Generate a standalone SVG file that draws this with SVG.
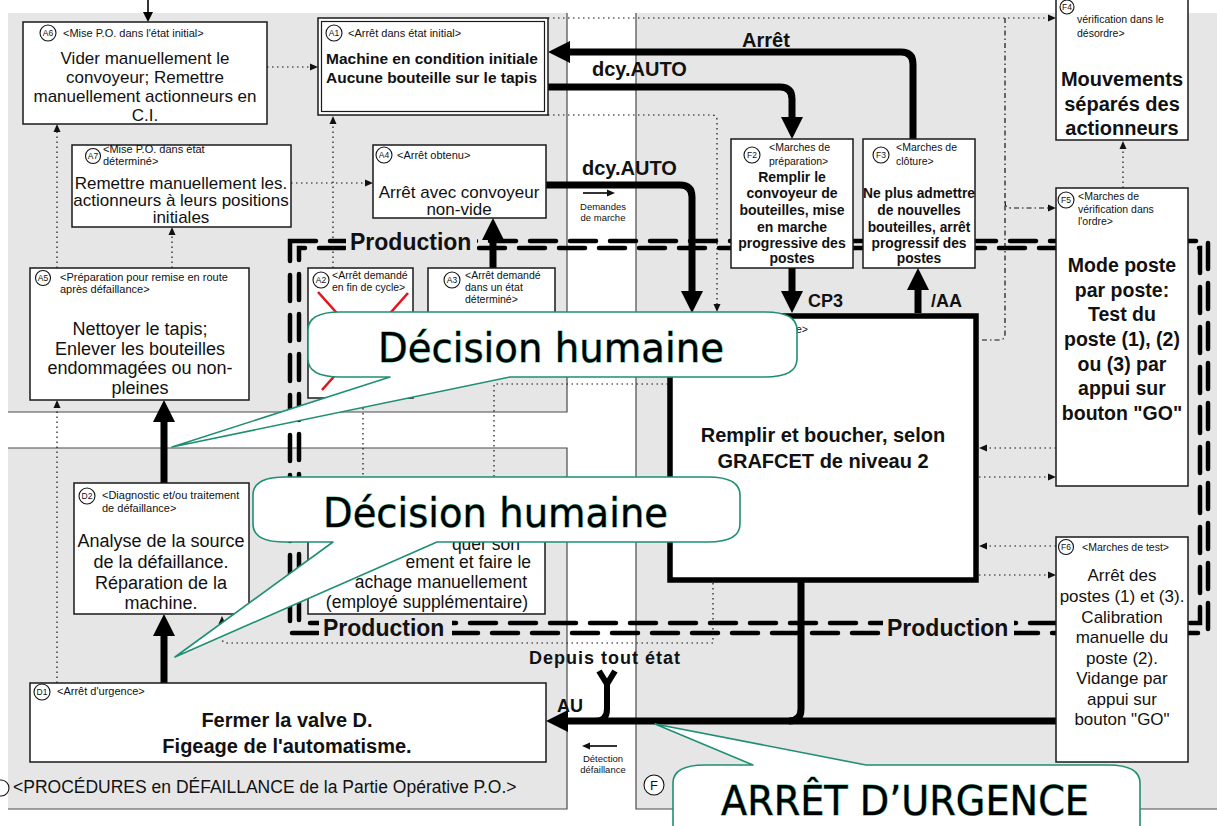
<svg xmlns="http://www.w3.org/2000/svg" width="1217" height="826" viewBox="0 0 1217 826">
<defs>
<style>
text{font-family:"Liberation Sans",Arial,Helvetica,sans-serif;fill:#111}
.bg{fill:#e6e6e6}
.edge{fill:none;stroke:#4a4a4a;stroke-width:1.2}
.box{fill:#fff;stroke:#1a1a1a;stroke-width:1.5}
.circ{fill:#fff;stroke:#111;stroke-width:1.1}
.ct{font-size:8.5px;text-anchor:middle}
.lbl{font-size:11px}
.lbs{font-size:10.5px}
.mid{text-anchor:middle}
.b{font-weight:bold}
.dot{fill:none;stroke:#111;stroke-width:1.2;stroke-dasharray:1.5 3.5}
.dd{fill:none;stroke:#111;stroke-width:1.2;stroke-dasharray:5 3 1.5 3}
.thk{fill:none;stroke:#000;stroke-width:7}
.thin{fill:none;stroke:#000;stroke-width:1.6}
.prod{fill:none;stroke:#000;stroke-width:4.5;stroke-dasharray:26 14;stroke-linecap:round}
.cross{stroke:#e5141b;stroke-width:2.6}
.bub{fill:#fff;stroke:#1f8f73;stroke-width:1.6;stroke-linejoin:round}
.big{font-family:"DejaVu Sans","Liberation Sans",sans-serif;fill:#000;stroke:#5bbfa3;stroke-width:1.1;paint-order:stroke}
</style>
<marker id="ab" markerUnits="userSpaceOnUse" markerWidth="22" markerHeight="22" refX="0" refY="11" orient="auto"><path d="M0,0L22,11L0,22z" fill="#000"/></marker>
<marker id="am" markerUnits="userSpaceOnUse" markerWidth="10" markerHeight="10" refX="0" refY="5" orient="auto"><path d="M0,0L10,5L0,10z" fill="#000"/></marker>
<marker id="as" markerUnits="userSpaceOnUse" markerWidth="8" markerHeight="8" refX="0" refY="4" orient="auto"><path d="M0,0.5L8,4L0,7.5z" fill="#111"/></marker>
</defs>

<rect width="1217" height="826" fill="#fff"/>

<g id="zone-A">
<rect class="bg" x="8" y="13" width="559" height="399"/>
<path class="edge" d="M8,412H567V13"/>
</g>
<g id="zone-D">
<rect class="bg" x="8" y="448" width="559" height="361"/>
<path class="edge" d="M8,448H567V809H8"/>
<circle class="circ" cx="1" cy="788" r="8"/>
<text x="13" y="793" style="font-size:17.5px">&lt;PROCÉDURES en DÉFAILLANCE de la Partie Opérative P.O.&gt;</text>
</g>
<g id="zone-F">
<rect class="bg" x="636" y="13" width="581" height="796"/>
<path class="edge" d="M636,13V809H1217"/>
<circle class="circ" cx="654" cy="785" r="10"/>
<text class="mid" x="654" y="790" style="font-size:13px">F</text>
</g>

<g id="production-frame">
<rect class="prod" x="290" y="241" width="918" height="392"/>
<rect class="prod" x="299" y="248" width="901" height="375" style="stroke-dashoffset:20"/>
<rect class="bg" x="346" y="231" width="131" height="25"/>
<rect class="bg" x="319" y="616" width="133" height="24"/>
<rect class="bg" x="883" y="616" width="131" height="24"/>
<text class="b" x="350" y="250" style="font-size:23px">Production</text>
<text class="b" x="323" y="636" style="font-size:23px">Production</text>
<text class="b" x="887" y="636" style="font-size:23px">Production</text>
</g>

<g id="connectors">
<g id="dotted-links">
<path class="dot" marker-end="url(#as)" d="M267,67H310"/>
<path class="dot" marker-end="url(#as)" d="M291,183H365"/>
<path class="dot" marker-end="url(#as)" d="M172,268V235"/>
<path class="dot" marker-end="url(#as)" d="M57,268V132"/>
<path class="dot" marker-end="url(#as)" d="M57,683V408"/>
<path class="dot" marker-end="url(#as)" d="M333,268V124"/>
<path class="dot" marker-end="url(#as)" d="M548,115H712Q717,115 717,120V304"/>
<path class="dot" marker-end="url(#as)" d="M548,18H1048"/>
<path class="dd" d="M1005,18V334Q1005,340 999,340H979"/>
<path class="dd" marker-end="url(#as)" d="M1005,202Q1005,208 1011,208H1048"/>
<path class="dot" marker-end="url(#as)" d="M1056,448H987"/>
<path class="dot" marker-end="url(#as)" d="M979,477H1048"/>
<path class="dot" marker-end="url(#as)" d="M1056,546H987"/>
<path class="dot" marker-end="url(#as)" d="M979,575H1048"/>
<path class="dot" marker-end="url(#as)" d="M1123,188V149"/>
<path class="dot" marker-end="url(#as)" d="M713,583V643H227Q222,643 222,638V624"/>
<path class="dot" d="M668,384H494V490"/>
<path class="dot" d="M363,398V490"/>
</g>
<g id="flow-links">
<path class="thk" marker-end="url(#ab)" d="M913,139V64Q913,52 901,52H570"/>
<path class="thk" marker-end="url(#ab)" d="M548,87H780Q792,87 792,99V117"/>
<path class="thk" marker-end="url(#ab)" d="M546,185H680Q692,185 692,197V291"/>
<path class="thk" marker-end="url(#ab)" d="M792,268V291"/>
<path class="thk" marker-end="url(#ab)" d="M918,313V290"/>
<path class="thk" marker-end="url(#ab)" d="M493,268V240"/>
<path class="thk" marker-end="url(#ab)" d="M164,483V422"/>
<path class="thk" marker-end="url(#ab)" d="M164,683V636"/>
<path class="thk" marker-end="url(#ab)" d="M1056,721H568"/>
<path class="thk" d="M801,580V709Q801,721 789,721"/>
<path class="thk" style="stroke-width:6;stroke-linejoin:round" d="M599,671L607,684L615,671M607,684V709Q607,721 595,721"/>
<path class="thin" marker-end="url(#am)" d="M148,0V12"/>
<path class="thin" marker-end="url(#as)" d="M583,193H607"/>
<path class="thin" marker-end="url(#as)" d="M617,746H590"/>
</g>
<g id="link-labels">
<text class="b mid" x="766" y="47" style="font-size:20px">Arrêt</text>
<text class="b" x="592" y="76" style="font-size:20px">dcy.AUTO</text>
<text class="b" x="582" y="175" style="font-size:20px">dcy.AUTO</text>
<text class="mid" x="603" y="210" style="font-size:9.5px">Demandes</text>
<text class="mid" x="603" y="221" style="font-size:9.5px">de marche</text>
<text class="b" x="808" y="307" style="font-size:18px">CP3</text>
<text class="b" x="931" y="307" style="font-size:18px">/AA</text>
<text class="b" x="529" y="664" style="font-size:18px;letter-spacing:1px">Depuis tout état</text>
<text class="b" x="557" y="712" style="font-size:18px">AU</text>
<text class="mid" x="603" y="762" style="font-size:9.5px">Détection</text>
<text class="mid" x="603" y="773" style="font-size:9.5px">défaillance</text>
</g>
</g>

<g id="A6">
<rect class="box" x="23" y="22" width="244" height="102"/>
<circle class="circ" cx="48" cy="33" r="8"/><text class="ct" x="48" y="36">A6</text>
<text class="lbl" x="63" y="37">&lt;Mise P.O. dans l'état initial&gt;</text>
<text class="mid" style="font-size:17px"><tspan x="145" y="64">Vider manuellement le</tspan><tspan x="145" y="83">convoyeur; Remettre</tspan><tspan x="145" y="102">manuellement actionneurs en</tspan><tspan x="145" y="121">C.I.</tspan></text>
</g>

<g id="A1">
<rect class="box" x="318" y="18" width="230" height="97"/>
<rect x="321.5" y="21.5" width="223" height="90" fill="none" stroke="#1a1a1a" stroke-width="1.2"/>
<circle class="circ" cx="334" cy="33" r="8"/><text class="ct" x="334" y="36">A1</text>
<text class="lbl" x="348" y="37">&lt;Arrêt dans état initial&gt;</text>
<text class="b" style="font-size:15.5px"><tspan x="326" y="64">Machine en condition initiale</tspan><tspan x="326" y="83">Aucune bouteille sur le tapis</tspan></text>
</g>

<g id="A7">
<rect class="box" x="72" y="145" width="219" height="82"/>
<circle class="circ" cx="93" cy="156" r="7.5"/><text class="ct" x="93" y="159">A7</text>
<text class="lbl"><tspan x="103" y="153">&lt;Mise P.O. dans état</tspan><tspan x="103" y="165">déterminé&gt;</tspan></text>
<text class="mid" style="font-size:17px"><tspan x="181" y="189">Remettre manuellement les.</tspan><tspan x="181" y="206">actionneurs à leurs positions</tspan><tspan x="181" y="223">initiales</tspan></text>
</g>

<g id="A4">
<rect class="box" x="373" y="145" width="173" height="73"/>
<circle class="circ" cx="384" cy="155" r="8"/><text class="ct" x="384" y="158">A4</text>
<text class="lbl" x="397" y="159">&lt;Arrêt obtenu&gt;</text>
<text class="mid" style="font-size:17px"><tspan x="459" y="198">Arrêt avec convoyeur</tspan><tspan x="459" y="215">non-vide</tspan></text>
</g>

<g id="A5">
<rect class="box" x="30" y="268" width="219" height="132"/>
<circle class="circ" cx="43" cy="278" r="7.5"/><text class="ct" x="43" y="281">A5</text>
<text class="lbl"><tspan x="60" y="281">&lt;Préparation pour remise en route</tspan><tspan x="60" y="293">après défaillance&gt;</tspan></text>
<text class="mid" style="font-size:18px"><tspan x="140" y="335">Nettoyer le tapis;</tspan><tspan x="140" y="355">Enlever les bouteilles</tspan><tspan x="140" y="374">endommagées ou non-</tspan><tspan x="140" y="394">pleines</tspan></text>
</g>

<g id="A2">
<rect class="box" x="308" y="268" width="105" height="130"/>
<circle class="circ" cx="321" cy="280" r="8"/><text class="ct" x="321" y="283">A2</text>
<text class="lbs"><tspan x="332" y="279">&lt;Arrêt demandé</tspan><tspan x="332" y="291">en fin de cycle&gt;</tspan></text>
<path class="cross" d="M318,292L404,388M408,293L322,390"/>
</g>

<g id="A3">
<rect class="box" x="428" y="268" width="127" height="104"/>
<circle class="circ" cx="452" cy="280" r="8"/><text class="ct" x="452" y="283">A3</text>
<text class="lbs"><tspan x="465" y="279">&lt;Arrêt demandé</tspan><tspan x="465" y="291">dans un état</tspan><tspan x="465" y="303">déterminé&gt;</tspan></text>
</g>

<g id="D2">
<rect class="box" x="74" y="483" width="175" height="131"/>
<circle class="circ" cx="87" cy="496" r="8"/><text class="ct" x="87" y="499">D2</text>
<text class="lbl"><tspan x="102" y="499">&lt;Diagnostic et/ou traitement</tspan><tspan x="102" y="512">de défaillance&gt;</tspan></text>
<text class="mid" style="font-size:18px"><tspan x="161" y="547">Analyse de la source</tspan><tspan x="161" y="568">de la défaillance.</tspan><tspan x="161" y="589">Réparation de la</tspan><tspan x="161" y="609">machine.</tspan></text>
</g>

<g id="D3">
<rect class="box" x="308" y="490" width="237" height="124"/>
<text style="font-size:17.5px;text-anchor:end"><tspan x="520" y="550">quer son</tspan><tspan x="531" y="568">ement et faire le</tspan><tspan x="527" y="588">achage manuellement</tspan></text>
<text class="mid" x="427" y="608" style="font-size:17.5px">(employé supplémentaire)</text>
</g>

<g id="D1">
<rect class="box" x="30" y="683" width="516" height="79"/>
<circle class="circ" cx="42" cy="692" r="8"/><text class="ct" x="42" y="695">D1</text>
<text class="lbl" x="57" y="695">&lt;Arrêt d'urgence&gt;</text>
<text class="b mid" style="font-size:20px"><tspan x="287" y="727">Fermer la valve D.</tspan><tspan x="287" y="753">Figeage de l'automatisme.</tspan></text>
</g>

<g id="F2">
<rect class="box" x="731" y="139" width="122" height="129"/>
<circle class="circ" cx="752" cy="155" r="8"/><text class="ct" x="752" y="158">F2</text>
<text class="lbs"><tspan x="769" y="151">&lt;Marches de</tspan><tspan x="769" y="165">préparation&gt;</tspan></text>
<text class="b mid" style="font-size:14px"><tspan x="792" y="182">Remplir le</tspan><tspan x="792" y="198">convoyeur de</tspan><tspan x="792" y="215">bouteilles, mise</tspan><tspan x="792" y="232">en marche</tspan><tspan x="792" y="248">progressive des</tspan><tspan x="792" y="263">postes</tspan></text>
</g>

<g id="F3">
<rect class="box" x="863" y="139" width="112" height="129"/>
<circle class="circ" cx="881" cy="155" r="8"/><text class="ct" x="881" y="158">F3</text>
<text class="lbs"><tspan x="896" y="151">&lt;Marches de</tspan><tspan x="896" y="165">clôture&gt;</tspan></text>
<text class="b mid" style="font-size:13.8px"><tspan x="919" y="198">Ne plus admettre</tspan><tspan x="919" y="215">de nouvelles</tspan><tspan x="919" y="232">bouteilles, arrêt</tspan><tspan x="919" y="248">progressif des</tspan><tspan x="919" y="263">postes</tspan></text>
</g>

<g id="F4">
<rect class="box" x="1056" y="-2" width="132" height="142"/>
<circle class="circ" cx="1067" cy="7" r="7"/><text class="ct" x="1067" y="10">F4</text>
<text class="lbs"><tspan x="1077" y="23">vérification dans le</tspan><tspan x="1077" y="37">désordre&gt;</tspan></text>
<text class="b mid" style="font-size:20px"><tspan x="1122" y="86">Mouvements</tspan><tspan x="1122" y="111">séparés des</tspan><tspan x="1122" y="135">actionneurs</tspan></text>
</g>

<g id="F5">
<rect class="box" x="1056" y="188" width="132" height="298"/>
<circle class="circ" cx="1066" cy="200" r="8"/><text class="ct" x="1066" y="203">F5</text>
<text class="lbs"><tspan x="1078" y="200">&lt;Marches de</tspan><tspan x="1078" y="213">vérification dans</tspan><tspan x="1078" y="225">l'ordre&gt;</tspan></text>
<text class="b mid" style="font-size:19.5px"><tspan x="1122" y="272">Mode poste</tspan><tspan x="1122" y="297">par poste:</tspan><tspan x="1122" y="321">Test du</tspan><tspan x="1122" y="346">poste (1), (2)</tspan><tspan x="1122" y="371">ou (3) par</tspan><tspan x="1122" y="395">appui sur</tspan><tspan x="1122" y="420">bouton "GO"</tspan></text>
</g>

<g id="F6">
<rect class="box" x="1056" y="537" width="132" height="225"/>
<circle class="circ" cx="1066" cy="547" r="7.5"/><text class="ct" x="1066" y="550">F6</text>
<text class="lbs" x="1082" y="551">&lt;Marches de test&gt;</text>
<text class="mid" style="font-size:17px"><tspan x="1122" y="581">Arrêt des</tspan><tspan x="1122" y="602">postes (1) et (3).</tspan><tspan x="1122" y="623">Calibration</tspan><tspan x="1122" y="643">manuelle du</tspan><tspan x="1122" y="664">poste (2).</tspan><tspan x="1122" y="684">Vidange par</tspan><tspan x="1122" y="705">appui sur</tspan><tspan x="1122" y="725">bouton "GO"</tspan></text>
</g>

<g id="F1">
<rect x="670" y="316" width="306" height="264" fill="#fff" stroke="#000" stroke-width="5.5"/>
<text class="lbs" x="808" y="333" style="text-anchor:end">e&gt;</text>
<text class="b mid" style="font-size:20px"><tspan x="823" y="442">Remplir et boucher, selon</tspan><tspan x="823" y="468">GRAFCET de niveau 2</tspan></text>
</g>

<g id="callout-decision-1">
<path class="bub" d="M340,312L765,312Q797,312 797,330L797,359Q797,377 765,377L510,377L172,447L390,377L340,377Q308,377 308,359L308,330Q308,312 340,312Z"/>
<text class="big" x="378" y="362" style="font-size:40px" textLength="346" lengthAdjust="spacingAndGlyphs">Décision humaine</text>
</g>

<g id="callout-decision-2">
<path class="bub" d="M285,477L708,477Q740,477 740,495L740,524Q740,542 708,542L437,542L175,657L333,542L285,542Q253,542 253,524L253,495Q253,477 285,477Z"/>
<text class="big" x="323" y="527" style="font-size:40px" textLength="345" lengthAdjust="spacingAndGlyphs">Décision humaine</text>
</g>

<g id="callout-arret-urgence">
<path class="bub" d="M705,765L753,765L655,724L866,765L1108,765Q1140,765 1140,783L1140,840L673,840L673,783Q673,765 705,765Z"/>
<text class="big" x="721" y="815" style="font-size:41px" textLength="368" lengthAdjust="spacingAndGlyphs">ARRÊT D’URGENCE</text>
</g>
</svg>
